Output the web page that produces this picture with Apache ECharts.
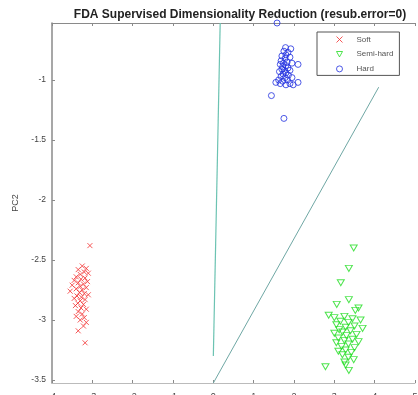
<!DOCTYPE html>
<html>
<head>
<meta charset="utf-8">
<script src="https://cdn.jsdelivr.net/npm/echarts@6/dist/echarts.min.js"></script>
<style>
  html, body { margin: 0; padding: 0; background: #fff; }
  #chart { width: 418px; height: 395px; }
</style>
</head>
<body>
<div id="chart"></div>
<script>
// Projected samples on the first two discriminant components: [PC1, PC2]
const softPoints = [
  [-3.06,-2.38],
  [-3.25,-2.55],[-3.15,-2.57],[-3.35,-2.58],[-3.20,-2.60],[-3.10,-2.61],[-3.30,-2.62],
  [-3.40,-2.64],[-3.18,-2.65],[-3.28,-2.66],[-3.45,-2.67],[-3.12,-2.68],[-3.35,-2.69],
  [-3.22,-2.70],[-3.50,-2.71],[-3.30,-2.72],[-3.15,-2.73],[-3.40,-2.74],[-3.25,-2.75],
  [-3.55,-2.76],[-3.32,-2.77],[-3.20,-2.78],[-3.10,-2.79],[-3.38,-2.80],[-3.27,-2.81],
  [-3.45,-2.82],[-3.18,-2.83],[-3.30,-2.84],[-3.36,-2.86],[-3.22,-2.87],[-3.42,-2.88],
  [-3.28,-2.90],[-3.15,-2.91],[-3.35,-2.93],[-3.25,-2.95],[-3.40,-2.97],[-3.20,-2.98],
  [-3.30,-3.00],[-3.15,-3.02],[-3.22,-3.05],[-3.35,-3.09],[-3.18,-3.19]
];
const semiHardPoints = [
  [3.48,-2.40],[3.36,-2.57],[3.16,-2.69],[3.36,-2.83],[3.06,-2.87],[3.60,-2.90],
  [3.52,-2.92],[2.86,-2.96],[3.00,-2.98],[3.25,-2.97],[3.45,-2.99],[3.65,-3.00],
  [3.15,-3.01],[3.35,-3.02],[3.05,-3.04],[3.50,-3.05],[3.28,-3.06],[3.70,-3.07],
  [3.12,-3.08],[3.40,-3.09],[3.20,-3.10],[3.00,-3.11],[3.55,-3.12],[3.30,-3.13],
  [3.10,-3.15],[3.45,-3.16],[3.25,-3.17],[3.60,-3.18],[3.05,-3.19],[3.35,-3.20],
  [3.18,-3.22],[3.50,-3.23],[3.28,-3.25],[3.10,-3.26],[3.42,-3.27],[3.20,-3.29],
  [3.35,-3.31],[3.48,-3.33],[3.25,-3.35],[2.78,-3.39],[3.28,-3.375],[3.36,-3.42],
  [4.05,-3.53]
];
const hardPoints = [
  [1.58,-0.525],
  [1.79,-0.73],[1.92,-0.74],[1.75,-0.76],[1.85,-0.77],[1.80,-0.79],[1.70,-0.80],
  [1.90,-0.81],[1.78,-0.82],[1.68,-0.84],[1.83,-0.85],[1.74,-0.86],[1.95,-0.86],
  [1.66,-0.87],[1.80,-0.88],[1.72,-0.89],[2.10,-0.87],[1.85,-0.90],[1.70,-0.91],
  [1.76,-0.92],[1.90,-0.92],[1.64,-0.93],[1.80,-0.94],[1.73,-0.95],[1.86,-0.96],
  [1.68,-0.97],[1.78,-0.98],[1.95,-0.98],[1.62,-1.00],[1.72,-1.01],[1.84,-1.00],
  [1.55,-1.02],[1.90,-1.03],[2.10,-1.02],[1.66,-1.03],[1.80,-1.04],[1.98,-1.04],
  [1.44,-1.13],[1.75,-1.32]
];

// Decision boundaries between the classes
const boundarySoftHard = [[0.17,-0.525],[0.0,-3.30]];
const boundaryHardSemi = [[0.0,-3.525],[4.10,-1.06]];

// Axis ranges and tick labels
const xRange = [-4, 5];
const yRange = [-3.525, -0.525];
const yTickValues = [-3.5, -3, -2.5, -2, -1.5, -1];
const xTickValues = [-4, -3, -2, -1, 0, 1, 2, 3, 4, 5];

const titleText = 'FDA Supervised Dimensionality Reduction (resub.error=0)';
const seriesNames = ['Soft', 'Semi-hard', 'Hard'];
const seriesColors = ['#f23030', '#22dd22', '#2030e0'];

const crossPath = 'path://M0,0L10,10M10,0L0,10';
const trianglePath = 'path://M0,0L10,0L5,9Z';

const chart = echarts.init(document.getElementById('chart'), null, { renderer: 'canvas' });

const axisGrey = '#8a8a8a';
const labelGrey = '#444';
const outline = (c) => ({ color: 'none', borderColor: c, borderWidth: 1 });

chart.setOption({
  animation: false,
  backgroundColor: '#fff',
  title: {
    text: titleText,
    left: 235,
    top: 4,
    textAlign: 'center',
    textStyle: { fontFamily: 'Liberation Sans, Arial', fontSize: 12, fontWeight: 'bold', color: '#222' }
  },
  legend: {
    orient: 'vertical',
    left: 317,
    top: 32,
    width: 91,
    padding: [2, 6, 1, 17],
    itemWidth: 6,
    itemHeight: 6,
    itemGap: 4,
    borderColor: '#555',
    borderWidth: 1,
    backgroundColor: '#fff',
    textStyle: { fontFamily: 'Liberation Sans, Arial', fontSize: 8, color: '#555', padding: [0, 0, 0, 9] },
    data: [
      { name: seriesNames[0], icon: crossPath, itemStyle: outline(seriesColors[0]) },
      { name: seriesNames[1], icon: trianglePath, itemStyle: outline(seriesColors[1]) },
      { name: seriesNames[2], icon: 'circle', itemStyle: outline(seriesColors[2]) }
    ]
  },
  grid: { left: 52, right: 3, top: 23, bottom: 12, containLabel: false, outerBoundsMode: 'none' },
  xAxis: [
    {
      type: 'value', min: xRange[0], max: xRange[1], interval: 1,
      axisLine: { show: true, onZero: false, lineStyle: { color: '#bbb' } },
      axisTick: { show: true, inside: true, length: 3, lineStyle: { color: axisGrey } },
      axisLabel: { margin: 9, fontSize: 9, color: labelGrey, fontFamily: 'Liberation Sans, Arial',
        customValues: xTickValues },
      splitLine: { show: false }
    },
    {
      type: 'value', position: 'top', min: xRange[0], max: xRange[1], interval: 1,
      axisLine: { show: true, onZero: false, lineStyle: { color: axisGrey } },
      axisTick: { show: true, inside: true, length: 3, lineStyle: { color: axisGrey } },
      axisLabel: { show: false },
      splitLine: { show: false }
    }
  ],
  yAxis: [
    {
      type: 'value', min: yRange[0], max: yRange[1],
      name: 'PC2', nameLocation: 'middle', nameGap: 21,
      nameTextStyle: { fontSize: 9, color: labelGrey, fontFamily: 'Liberation Sans, Arial' },
      axisLine: { show: true, onZero: false, lineStyle: { color: axisGrey, width: 1.5 } },
      axisTick: { show: true, inside: true, length: 3, customValues: yTickValues, lineStyle: { color: axisGrey } },
      axisLabel: { margin: 6, fontSize: 8.5, color: labelGrey, fontFamily: 'Liberation Sans, Arial',
        customValues: yTickValues },
      splitLine: { show: false }
    }
  ],
  series: [
    {
      name: seriesNames[0], type: 'scatter', data: softPoints,
      symbol: crossPath, symbolSize: 5,
      itemStyle: outline(seriesColors[0])
    },
    {
      name: seriesNames[1], type: 'scatter', data: semiHardPoints,
      symbol: trianglePath, symbolSize: [7, 6],
      itemStyle: outline(seriesColors[1])
    },
    {
      name: seriesNames[2], type: 'scatter', data: hardPoints,
      symbol: 'circle', symbolSize: 6,
      itemStyle: outline(seriesColors[2])
    },
    {
      type: 'line', data: boundarySoftHard, symbol: 'none', silent: true,
      lineStyle: { color: '#6cc3b2', width: 1.2 }, z: 1
    },
    {
      type: 'line', data: boundaryHardSemi, symbol: 'none', silent: true,
      lineStyle: { color: '#6fa7a4', width: 1 }, z: 1
    }
  ]
});
</script>
</body>
</html>
